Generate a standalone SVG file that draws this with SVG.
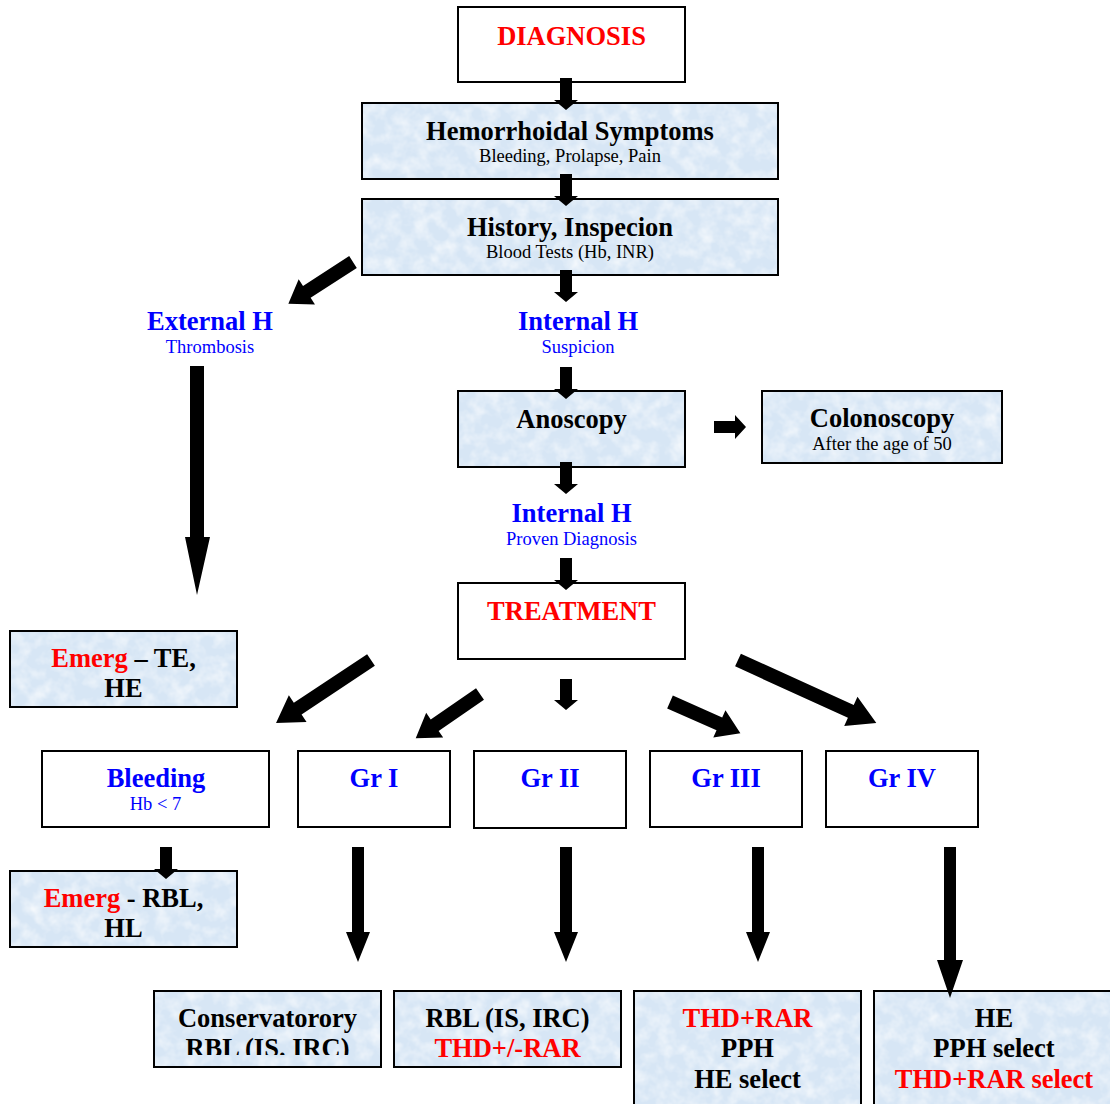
<svg xmlns="http://www.w3.org/2000/svg" width="1110" height="1104" viewBox="0 0 1110 1104">
<style>
  .box { stroke: #000; stroke-width: 2; }
  .white { fill: #fff; }
  .blue { fill: #d7e6f5; }
  .tex { fill: #fff; }
  text { font-family: "Liberation Serif", "Times New Roman", serif; text-anchor: middle; }
  .t { font-size: 26.5px; font-weight: bold; fill: #000; }
  .s { font-size: 18.5px; fill: #000; }
  .red { fill: #ff0000; }
  .bl { fill: #0000ff; }
  .arr { fill: #000; }
</style>
<defs>
  <filter id="noise" x="0" y="0" width="100%" height="100%">
    <feTurbulence type="fractalNoise" baseFrequency="0.07" numOctaves="3" seed="7" result="n"/>
    <feColorMatrix in="n" type="matrix" values="0 0 0 0 1  0 0 0 0 1  0 0 0 0 1  1.3 0 0 0 -0.5" result="w"/>
    <feComposite in="w" in2="SourceGraphic" operator="in"/>
  </filter>
  <clipPath id="clipC"><rect x="150" y="990" width="240" height="65"/></clipPath>
</defs>

<g id="diagnosis">
  <rect class="box white" x="458" y="7" width="227" height="75"/>
  <text class="t red" x="571.5" y="45">DIAGNOSIS</text>
</g>

<g id="symptoms">
  <rect class="box blue" x="362" y="103" width="416" height="76"/>
  <rect class="tex" x="363" y="104" width="414" height="74" filter="url(#noise)"/>
  <text class="t" x="570" y="140">Hemorrhoidal Symptoms</text>
  <text class="s" x="570" y="162">Bleeding, Prolapse, Pain</text>
</g>

<g id="history">
  <rect class="box blue" x="362" y="199" width="416" height="76"/>
  <rect class="tex" x="363" y="200" width="414" height="74" filter="url(#noise)"/>
  <text class="t" x="570" y="236">History, Inspecion</text>
  <text class="s" x="570" y="258">Blood Tests (Hb, INR)</text>
</g>

<g id="external-h">
  <text class="t bl" x="210" y="330">External H</text>
  <text class="s bl" x="210" y="353">Thrombosis</text>
</g>

<g id="internal-h-suspicion">
  <text class="t bl" x="578" y="330">Internal H</text>
  <text class="s bl" x="578" y="353">Suspicion</text>
</g>

<g id="anoscopy">
  <rect class="box blue" x="458" y="391" width="227" height="76"/>
  <rect class="tex" x="459" y="392" width="225" height="74" filter="url(#noise)"/>
  <text class="t" x="571.5" y="428">Anoscopy</text>
</g>

<g id="colonoscopy">
  <rect class="box blue" x="762" y="391" width="240" height="72"/>
  <rect class="tex" x="763" y="392" width="238" height="70" filter="url(#noise)"/>
  <text class="t" x="882" y="427">Colonoscopy</text>
  <text class="s" x="882" y="450">After the age of 50</text>
</g>

<g id="internal-h-proven">
  <text class="t bl" x="571.5" y="522">Internal H</text>
  <text class="s bl" x="571.5" y="545">Proven Diagnosis</text>
</g>

<g id="treatment">
  <rect class="box white" x="458" y="583" width="227" height="76"/>
  <text class="t red" x="571.5" y="620">TREATMENT</text>
</g>

<g id="emerg-te">
  <rect class="box blue" x="10" y="631" width="227" height="76"/>
  <rect class="tex" x="11" y="632" width="225" height="74" filter="url(#noise)"/>
  <text class="t" x="123.5" y="667"><tspan class="red">Emerg</tspan> – TE,</text>
  <text class="t" x="123.5" y="697">HE</text>
</g>

<g id="bleeding">
  <rect class="box white" x="42" y="751" width="227" height="76"/>
  <text class="t bl" x="156" y="787">Bleeding</text>
  <text class="s bl" x="155.5" y="810">Hb &lt; 7</text>
</g>

<g id="gr1">
  <rect class="box white" x="298" y="751" width="152" height="76"/>
  <text class="t bl" x="374" y="787">Gr I</text>
</g>

<g id="gr2">
  <rect class="box white" x="474" y="751" width="152" height="77"/>
  <text class="t bl" x="550" y="787">Gr II</text>
</g>

<g id="gr3">
  <rect class="box white" x="650" y="751" width="152" height="76"/>
  <text class="t bl" x="726" y="787">Gr III</text>
</g>

<g id="gr4">
  <rect class="box white" x="826" y="751" width="152" height="76"/>
  <text class="t bl" x="902" y="787">Gr IV</text>
</g>

<g id="emerg-rbl">
  <rect class="box blue" x="10" y="871" width="227" height="76"/>
  <rect class="tex" x="11" y="872" width="225" height="74" filter="url(#noise)"/>
  <text class="t" x="123.5" y="907"><tspan class="red">Emerg</tspan> - RBL,</text>
  <text class="t" x="123.5" y="937">HL</text>
</g>

<g id="conservatory">
  <rect class="box blue" x="154" y="991" width="227" height="76"/>
  <rect class="tex" x="155" y="992" width="225" height="74" filter="url(#noise)"/>
  <text class="t" x="267.5" y="1027">Conservatorory</text>
  <text class="t" x="267.5" y="1057" clip-path="url(#clipC)">RBL (IS. IRC)</text>
</g>

<g id="rbl">
  <rect class="box blue" x="394" y="991" width="227" height="76"/>
  <rect class="tex" x="395" y="992" width="225" height="74" filter="url(#noise)"/>
  <text class="t" x="507.5" y="1027">RBL (IS, IRC)</text>
  <text class="t red" x="507.5" y="1057">THD+/-RAR</text>
</g>

<g id="thd">
  <rect class="box blue" x="634" y="991" width="227" height="120"/>
  <rect class="tex" x="635" y="992" width="225" height="112" filter="url(#noise)"/>
  <text class="t red" x="747.5" y="1027">THD+RAR</text>
  <text class="t" x="747.5" y="1057">PPH</text>
  <text class="t" x="747.5" y="1088">HE select</text>
</g>

<g id="he">
  <rect class="box blue" x="874" y="991" width="240" height="120"/>
  <rect class="tex" x="875" y="992" width="235" height="112" filter="url(#noise)"/>
  <text class="t" x="994" y="1027">HE</text>
  <text class="t" x="994" y="1057">PPH select</text>
  <text class="t red" x="994" y="1088">THD+RAR select</text>
</g>

<g id="connectors">
  <polygon class="arr" points="560,78 572,78 572,100 578,100 566,110 554,100 560,100"/>
  <polygon class="arr" points="560,174 572,174 572,196 578,196 566,206 554,196 560,196"/>
  <polygon class="arr" points="560,270 572,270 572,292 578,292 566,302 554,292 560,292"/>
  <polygon class="arr" points="560,367 572,367 572,389 578,389 566,399 554,389 560,389"/>
  <polygon class="arr" points="560,462 572,462 572,484 578,484 566,494 554,484 560,484"/>
  <polygon class="arr" points="560,558 572,558 572,580 578,580 566,590 554,580 560,580"/>
  <polygon class="arr" points="560,679 572,679 572,700 578,700 566,710 554,700 560,700"/>
  <polygon class="arr" points="160,847 172,847 172,869 178,869 166,879 154,869 160,869"/>
  <polygon class="arr" points="714,421 735,421 735,415 746,427 735,439 735,433 714,433"/>
  <path class="arr" transform="translate(353,262) rotate(147.1)" d="M0,-7 L55,-7 L55,-15 L77,0 L55,15 L55,7 L0,7 Z"/>
  <polygon class="arr" points="190,366 204,366 204,537 210,537 197,595 185,537 190,537"/>
  <path class="arr" transform="translate(371,660) rotate(146.4)" d="M0,-7 L88,-7 L88,-16 L114,0 L88,16 L88,7 L0,7 Z"/>
  <path class="arr" transform="translate(480,694) rotate(145.5)" d="M0,-7 L55,-7 L55,-15 L78,0 L55,15 L55,7 L0,7 Z"/>
  <path class="arr" transform="translate(670,702) rotate(23.9)" d="M0,-7 L54,-7 L54,-15 L77,0 L54,15 L54,7 L0,7 Z"/>
  <path class="arr" transform="translate(738,660) rotate(24.5)" d="M0,-7 L124,-7 L124,-16 L152,0 L124,16 L124,7 L0,7 Z"/>
  <polygon class="arr" points="352,847 364,847 364,932 370,932 358,962 346,932 352,932"/>
  <polygon class="arr" points="560,847 572,847 572,932 578,932 566,962 554,932 560,932"/>
  <polygon class="arr" points="752,847 764,847 764,932 770,932 758,962 746,932 752,932"/>
  <polygon class="arr" points="944,847 956,847 956,960 963,960 950,998 937,960 944,960"/>
</g>
</svg>
